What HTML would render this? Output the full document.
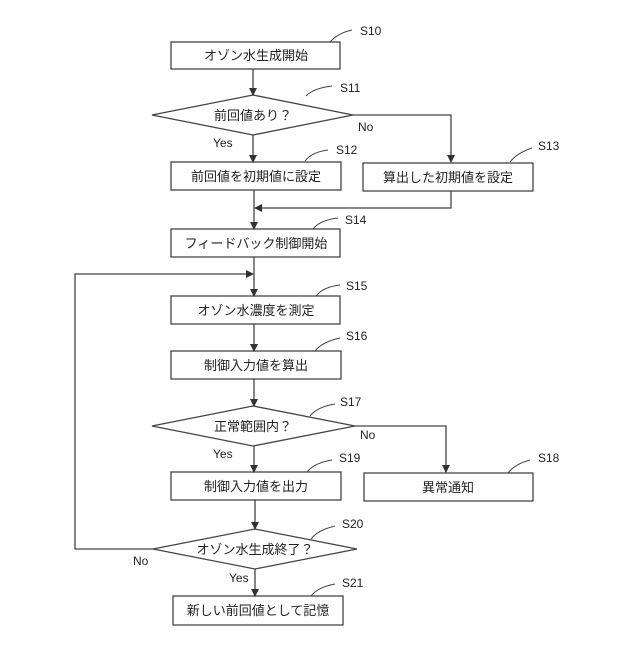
<!DOCTYPE html>
<html><head><meta charset="utf-8"><style>body{margin:0;background:#fff}svg text{font-family:"Liberation Sans","Noto Sans CJK JP",sans-serif;fill:#222}</style></head><body>
<svg width="640" height="640" viewBox="0 0 640 640" xmlns="http://www.w3.org/2000/svg">
<defs><marker id="a" markerWidth="8" markerHeight="8" refX="7" refY="4" orient="auto" markerUnits="userSpaceOnUse"><path d="M0,0 L8,4 L0,8 z" fill="#333"/></marker></defs>
<g stroke="#444" stroke-width="1.3" fill="#fff">
<rect x="171" y="42" width="169" height="27"/>
<polygon points="152,115 253,95 353,115 253,135"/>
<rect x="171" y="162" width="170" height="28"/>
<rect x="363" y="163" width="170" height="28"/>
<rect x="171" y="229" width="169" height="28"/>
<rect x="171" y="296" width="169" height="28"/>
<rect x="171" y="351" width="170" height="28"/>
<polygon points="152,426 253,406 355,426 253,446"/>
<rect x="171" y="472" width="170" height="28"/>
<rect x="364" y="473" width="169" height="28"/>
<polygon points="153,549 255,529 357,549 255,569"/>
<rect x="173" y="596" width="170" height="29"/>
</g>
<g stroke="#444" stroke-width="1.3" fill="none" marker-end="url(#a)">
<line x1="253" y1="69" x2="253" y2="95"/>
<line x1="253" y1="135" x2="253" y2="162"/>
<polyline points="353,115 451,115 451,162"/>
<polyline points="451,191 451,208 255,208"/>
<line x1="254" y1="190" x2="254" y2="229"/>
<line x1="254" y1="257" x2="254" y2="296"/>
<polyline points="155,549 75,549 75,274 253,274"/>
<line x1="254" y1="324" x2="254" y2="351"/>
<line x1="254" y1="379" x2="254" y2="406"/>
<line x1="254" y1="446" x2="254" y2="472"/>
<polyline points="355,426 446,426 446,472"/>
<line x1="255" y1="500" x2="255" y2="529"/>
<line x1="255" y1="569" x2="255" y2="596"/>
</g>
<g stroke="#444" stroke-width="1" fill="none">
<path d="M330,42 Q338,33 352,30"/>
<path d="M306,96 Q314,88 332,86"/>
<path d="M305,161 Q312,152 328,150"/>
<path d="M510,162 Q517,153 532,148"/>
<path d="M313,229 Q320,220 338,218"/>
<path d="M316,296 Q323,287 340,285"/>
<path d="M315,351 Q322,342 340,338"/>
<path d="M310,416 Q317,407 335,404"/>
<path d="M307,472 Q314,463 332,460"/>
<path d="M508,473 Q515,464 530,460"/>
<path d="M311,539 Q318,530 335,526"/>
<path d="M311,596 Q318,587 335,584"/>
</g>
<g font-size="13" text-anchor="middle">
<text x="256" y="60">オゾン水生成開始</text>
<text x="253" y="120">前回値あり？</text>
<text x="256" y="181">前回値を初期値に設定</text>
<text x="448" y="182">算出した初期値を設定</text>
<text x="256" y="248">フィードバック制御開始</text>
<text x="256" y="315">オゾン水濃度を測定</text>
<text x="256" y="370">制御入力値を算出</text>
<text x="253" y="431">正常範囲内？</text>
<text x="256" y="491">制御入力値を出力</text>
<text x="448" y="492">異常通知</text>
<text x="255" y="554">オゾン水生成終了？</text>
<text x="258" y="615">新しい前回値として記憶</text>
</g>
<g font-size="12">
<text x="360" y="35">S10</text><text x="340" y="92">S11</text><text x="336" y="154">S12</text>
<text x="538" y="150">S13</text><text x="345" y="224">S14</text><text x="346" y="290">S15</text>
<text x="346" y="340">S16</text><text x="340" y="406">S17</text><text x="538" y="462">S18</text>
<text x="339" y="462">S19</text><text x="342" y="528">S20</text><text x="342" y="587">S21</text>
<text x="358" y="131">No</text><text x="213" y="147">Yes</text>
<text x="360" y="439">No</text><text x="213" y="458">Yes</text>
<text x="133" y="565">No</text><text x="229" y="582">Yes</text>
</g>
</svg>
</body></html>
